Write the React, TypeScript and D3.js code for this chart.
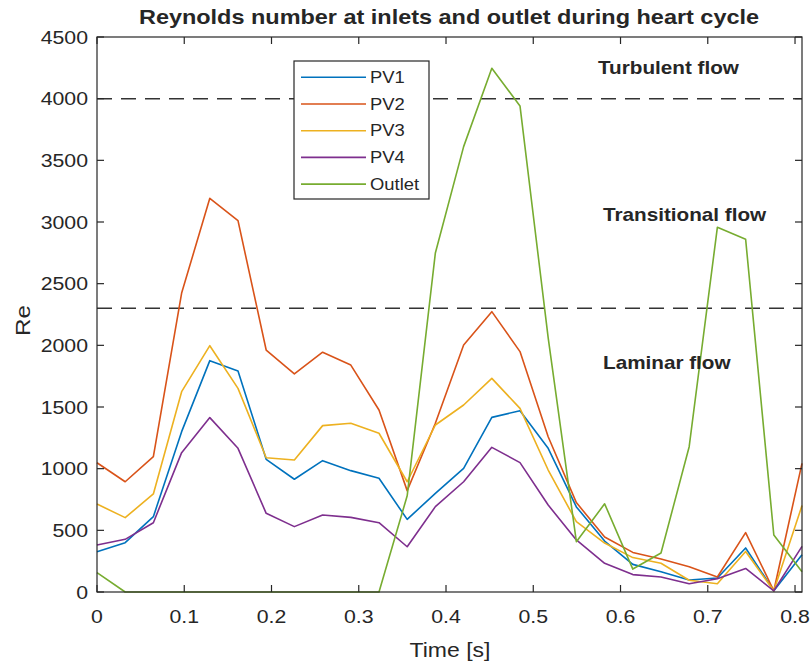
import React from "react";
import * as d3 from "d3";

const time = [0, 0.0323, 0.0646, 0.097, 0.1293, 0.1616, 0.1939, 0.2262, 0.2586, 0.2909, 0.3232, 0.3555, 0.3878, 0.4202, 0.4525, 0.4848, 0.5171, 0.5494, 0.5818, 0.6141, 0.6464, 0.6787, 0.711, 0.7434, 0.7757, 0.808];
const pv1 = [327, 400, 611, 1300, 1876, 1792, 1076, 914, 1065, 984, 922, 589, 800, 1003, 1416, 1470, 1165, 690, 413, 224, 164, 97, 113, 357, 10, 302];
const pv2 = [1048, 894, 1097, 2424, 3192, 3011, 1962, 1768, 1944, 1840, 1476, 822, 1368, 2003, 2273, 1949, 1259, 725, 446, 321, 268, 205, 122, 481, 10, 1043];
const pv3 = [713, 603, 795, 1624, 1997, 1651, 1089, 1070, 1349, 1368, 1287, 894, 1354, 1516, 1732, 1489, 989, 570, 397, 279, 233, 95, 67, 329, 10, 701];
const pv4 = [381, 427, 562, 1130, 1414, 1165, 638, 530, 624, 605, 562, 367, 692, 894, 1173, 1049, 705, 422, 233, 141, 122, 67, 108, 191, 10, 370];
const outlet = [157, 0, 0, 0, 0, 0, 0, 0, 0, 0, 0, 780, 2749, 3611, 4246, 3941, 2060, 408, 715, 186, 316, 1178, 2957, 2860, 462, 164];

const seriesNames = ["PV1", "PV2", "PV3", "PV4", "Outlet"];
const seriesValues = [pv1, pv2, pv3, pv4, outlet];
const seriesColors = ["#0072BD", "#D95319", "#EDB120", "#7E2F8E", "#77AC30"];

const xTicks = [0, 0.1, 0.2, 0.3, 0.4, 0.5, 0.6, 0.7, 0.8];
const xTickLabels = ["0", "0.1", "0.2", "0.3", "0.4", "0.5", "0.6", "0.7", "0.8"];
const yTicks = [0, 500, 1000, 1500, 2000, 2500, 3000, 3500, 4000, 4500];
const thresholds = [4000, 2300];
const regionLabels = ["Turbulent flow", "Transitional flow", "Laminar flow"];
const regionValues = [4250, 3060, 1860];

const W = 811, H = 664;
const L = 97, R = 802, T = 37, B = 592;
const SX = 1.15;
const FONT = "'Liberation Sans', Arial, Helvetica, sans-serif";
const AX = "#262626";

function Txt({ x, y, anchor = "start", size, weight = "normal", children }: any) {
  return (
    <text
      transform={`translate(${x},${y}) scale(${SX},1)`}
      textAnchor={anchor}
      fontSize={size}
      fontWeight={weight}
      fontFamily={FONT}
      fill={AX}
    >
      {children}
    </text>
  );
}

export default function App() {
  const x = d3.scaleLinear().domain([0, 0.808]).range([L, R]);
  const y = d3.scaleLinear().domain([0, 4500]).range([B, T]);
  const line = d3
    .line<number>()
    .x((_, i) => x(time[i]))
    .y((d) => y(d));

  const legX = 294, legY = 61, legW = 135, legH = 138;
  const rowY = (i: number) => 77.3 + i * 26.7;
  const regionX = [598, 603, 603];

  return (
    <svg width={W} height={H} style={{ position: "absolute", left: 0, top: 0, background: "#fff" }}>
      <rect x={0} y={0} width={W} height={H} fill="#fff" />
      {thresholds.map((t) => (
        <line key={t} x1={L} x2={R} y1={y(t)} y2={y(t)} stroke="#333" strokeWidth={1.5} strokeDasharray="15,9" />
      ))}
      {seriesValues.map((vals, i) => (
        <path key={i} d={line(vals) || ""} fill="none" stroke={seriesColors[i]} strokeWidth={1.6} strokeLinejoin="round" />
      ))}
      {regionLabels.map((lab, i) => (
        <Txt key={lab} x={regionX[i]} y={y(regionValues[i]) + 6} size={18} weight="bold">
          {lab}
        </Txt>
      ))}
      <rect x={L} y={T} width={R - L} height={B - T} fill="none" stroke={AX} strokeWidth={1.2} />
      {xTicks.map((t) => (
        <g key={"xt" + t}>
          <line x1={x(t)} x2={x(t)} y1={B} y2={B - 7} stroke={AX} strokeWidth={1.2} />
          <line x1={x(t)} x2={x(t)} y1={T} y2={T + 7} stroke={AX} strokeWidth={1.2} />
        </g>
      ))}
      {yTicks.map((t) => (
        <g key={"yt" + t}>
          <line x1={L} x2={L + 7} y1={y(t)} y2={y(t)} stroke={AX} strokeWidth={1.2} />
          <line x1={R} x2={R - 7} y1={y(t)} y2={y(t)} stroke={AX} strokeWidth={1.2} />
        </g>
      ))}
      {xTicks.map((t, i) => (
        <Txt key={"xl" + t} x={x(t)} y={623} anchor="middle" size={18.5}>
          {xTickLabels[i]}
        </Txt>
      ))}
      {yTicks.map((t) => (
        <Txt key={"yl" + t} x={88} y={y(t) + 6.6} anchor="end" size={18.5}>
          {String(t)}
        </Txt>
      ))}
      <Txt x={450} y={657} anchor="middle" size={20}>
        Time [s]
      </Txt>
      <text
        transform={`translate(30,${(T + B) / 2 + 6}) rotate(-90) scale(${SX},1)`}
        textAnchor="middle"
        fontSize={21}
        fontFamily={FONT}
        fill={AX}
      >
        Re
      </text>
      <Txt x={449} y={24} anchor="middle" size={20.4} weight="bold">
        Reynolds number at inlets and outlet during heart cycle
      </Txt>
      <rect x={legX} y={legY} width={legW} height={legH} fill="#fff" stroke={AX} strokeWidth={1.2} />
      {seriesNames.map((n, i) => (
        <g key={n}>
          <line x1={301} x2={366} y1={rowY(i)} y2={rowY(i)} stroke={seriesColors[i]} strokeWidth={1.6} />
          <Txt x={370} y={rowY(i) + 5.6} size={16}>
            {n}
          </Txt>
        </g>
      ))}
    </svg>
  );
}
